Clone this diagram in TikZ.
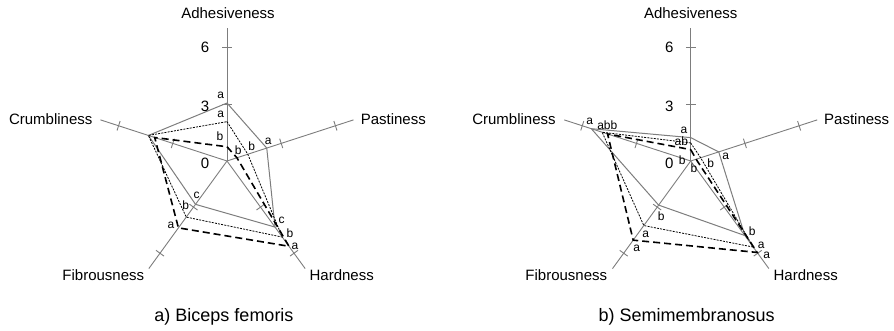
\documentclass[tikz,border=0pt]{standalone}
\usepackage{fontspec}
\setmainfont{Liberation Sans}
\usetikzlibrary{calc}
\definecolor{axisgray}{RGB}{125,125,125}
\begin{document}
\begin{tikzpicture}[x=1pt,y=1pt,
  axisline/.style={draw=axisgray, line width=0.9pt},
  serA/.style={draw=axisgray, line width=1pt},
  serB/.style={draw=black, line width=0.8pt, dash pattern=on 2pt off 1.2pt},
  serC/.style={draw=black, line width=1.6pt, dash pattern=on 7pt off 4pt},
  axlab/.style={font=\fontsize{15}{15}\selectfont, inner sep=0},
  numlab/.style={font=\fontsize{15}{15}\selectfont, inner sep=0},
  siglab/.style={font=\fontsize{12}{12}\selectfont, inner sep=0},
  caplab/.style={font=\fontsize{18}{18}\selectfont, inner sep=0}]
\useasboundingbox (0,0) rectangle (894,331);

% ---------- left chart: Biceps femoris ----------
\begin{scope}[shift={(227,170)}, x=19pt, y=19pt]
  \coordinate (Lcen) at (0,0);
  \foreach \a/\n in {90/adh,18/pas,-54/har,234/fib,162/cru}{
    \coordinate (L\n) at (\a:7);
    \draw[axisline] (Lcen) -- (L\n);
    \foreach \v in {3,6}
      \draw[axisline] ([shift={(\a:\v)}]\a+90:0.26) -- ([shift={(\a:\v)}]\a-90:0.26);
  }
  % solid series
  \coordinate (LA1) at (90:3.05);
  \coordinate (LA2) at (18:2.2);
  \coordinate (LA3) at (-54:4.3);
  \coordinate (LA4) at (234:2.82);
  \coordinate (LA5) at (162:4.35);
  % dotted series
  \coordinate (LB1) at (90:2.07);
  \coordinate (LB2) at (18:1.15);
  \coordinate (LB3) at (-54:4.95);
  \coordinate (LB4) at (234:3.65);
  \coordinate (LB5) at (162:4.35);
  % dashed series
  \coordinate (LC1) at (90:0.75);
  \coordinate (LC2) at (18:0.55);
  \coordinate (LC3) at (-54:5.55);
  \coordinate (LC4) at (234:4.35);
  \coordinate (LC5) at (162:4.0);
  \draw[serA] (LA1) -- (LA2) -- (LA3) -- (LA4) -- (LA5) -- cycle;
  \draw[serB] (LB1) -- (LB2) -- (LB3) -- (LB4) -- (LB5) -- cycle;
  \draw[serC] (LC1) -- (LC2) -- (LC3) -- (LC4) -- (LC5) -- cycle;
\end{scope}

% ---------- right chart: Semimembranosus ----------
\begin{scope}[shift={(690.7,170)}, x=19pt, y=19pt]
  \coordinate (Rcen) at (0,0);
  \foreach \a/\n in {90/adh,18/pas,-54/har,234/fib,162/cru}{
    \coordinate (R\n) at (\a:7);
    \draw[axisline] (Rcen) -- (R\n);
    \foreach \v in {3,6}
      \draw[axisline] ([shift={(\a:\v)}]\a+90:0.26) -- ([shift={(\a:\v)}]\a-90:0.26);
  }
  \coordinate (RA1) at (90:1.23);
  \coordinate (RA2) at (18:1.55);
  \coordinate (RA3) at (-54:4.85);
  \coordinate (RA4) at (234:2.87);
  \coordinate (RA5) at (162:5.5);
  \coordinate (RB1) at (90:0.95);
  \coordinate (RB2) at (18:0.55);
  \coordinate (RB3) at (-54:5.6);
  \coordinate (RB4) at (234:4.2);
  \coordinate (RB5) at (162:4.9);
  \coordinate (RC1) at (90:0.6);
  \coordinate (RC2) at (18:0.3);
  \coordinate (RC3) at (-54:5.95);
  \coordinate (RC4) at (234:5.15);
  \coordinate (RC5) at (162:4.6);
  \draw[serA] (RA1) -- (RA2) -- (RA3) -- (RA4) -- (RA5) -- cycle;
  \draw[serB] (RB1) -- (RB2) -- (RB3) -- (RB4) -- (RB5) -- cycle;
  \draw[serC] (RC1) -- (RC2) -- (RC3) -- (RC4) -- (RC5) -- cycle;
\end{scope}

% ---------- left labels ----------
\node[axlab] (LtAdh) at (228,317.5) {Adhesiveness};
\node[axlab] (LtPas) at (393.3,212) {Pastiness};
\node[axlab] (LtHar) at (341.7,56) {Hardness};
\node[axlab] (LtFib) at (103.3,56) {Fibrousness};
\node[axlab] (LtCru) at (50.7,212) {Crumbliness};
\node[caplab] (LtCap) at (224,14.3) {a) Biceps femoris};
\node[numlab] (Ln6) at (205,283.3) {6};
\node[numlab] (Ln3) at (205,225) {3};
\node[numlab] (Ln0) at (205,167.7) {0};
\node[siglab] (Ls1) at (220.7,236) {a};
\node[siglab] (Ls2) at (220.7,216.7) {a};
\node[siglab] (Ls3) at (220,194.3) {b};
\node[siglab] (Ls4) at (238.3,181) {b};
\node[siglab] (Ls5) at (251.7,184.3) {b};
\node[siglab] (Ls6) at (268.3,189.3) {a};
\node[siglab] (Ls7) at (281.7,110.3) {c};
\node[siglab] (Ls8) at (290,97.7) {b};
\node[siglab] (Ls9) at (295,85) {a};
\node[siglab] (Ls10) at (196.7,136) {c};
\node[siglab] (Ls11) at (185.7,126) {b};
\node[siglab] (Ls12) at (171,106) {a};

% ---------- right labels ----------
\node[axlab] (RtAdh) at (690.7,317.5) {Adhesiveness};
\node[axlab] (RtPas) at (856.7,212) {Pastiness};
\node[axlab] (RtHar) at (805.7,56) {Hardness};
\node[axlab] (RtFib) at (566.3,56) {Fibrousness};
\node[axlab] (RtCru) at (514,212) {Crumbliness};
\node[caplab] (RtCap) at (686.7,14.3) {b) Semimembranosus};
\node[numlab] (Rn6) at (669.3,283.3) {6};
\node[numlab] (Rn3) at (669.3,225) {3};
\node[numlab] (Rn0) at (669.3,167.7) {0};
\node[siglab] (Rs1) at (684,200.3) {a};
\node[siglab] (Rs2) at (681.3,189.3) {ab};
\node[siglab] (Rs3) at (589.7,209.3) {a};
\node[siglab] (Rs4) at (607.3,206) {abb};
\node[siglab] (Rs5) at (725.7,174.3) {a};
\node[siglab] (Rs6) at (710.7,167.7) {b};
\node[siglab] (Rs7) at (694,162.7) {b};
\node[siglab] (Rs8) at (682.3,171) {b};
\node[siglab] (Rs9) at (752.3,99.3) {b};
\node[siglab] (Rs10) at (761.3,86) {a};
\node[siglab] (Rs11) at (766.7,76) {a};
\node[siglab] (Rs12) at (661.3,115) {b};
\node[siglab] (Rs13) at (645.7,96.7) {a};
\node[siglab] (Rs14) at (636.7,82.7) {a};
\end{tikzpicture}
\end{document}
